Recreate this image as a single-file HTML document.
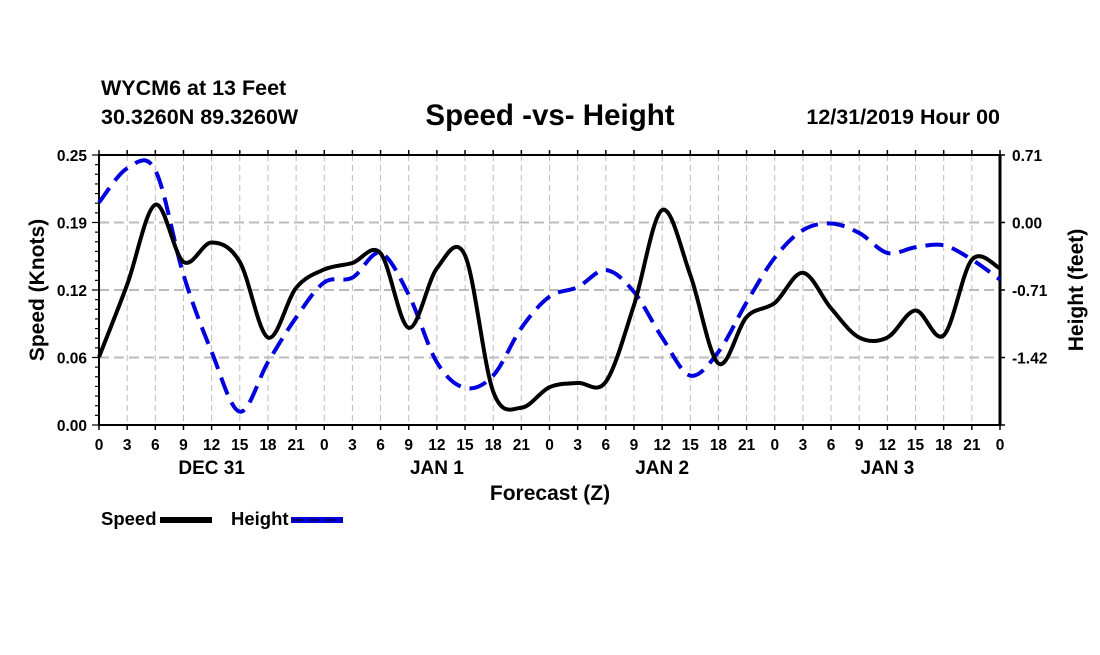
<!DOCTYPE html>
<html><head><meta charset="utf-8"><style>
body{margin:0;background:#fff;}
svg text{font-family:"Liberation Sans",Arial,sans-serif;font-weight:bold;fill:#000;}
</style></head><body>
<svg id="chart" width="1100" height="650" viewBox="0 0 1100 650" xmlns="http://www.w3.org/2000/svg">
<rect width="1100" height="650" fill="#fff"/>
<text x="101" y="95" font-size="21.5">WYCM6 at 13 Feet</text>
<text x="101" y="124" font-size="21.5">30.3260N 89.3260W</text>
<text x="550" y="125" font-size="29.5" text-anchor="middle">Speed -vs- Height</text>
<text x="1000" y="124" font-size="21.5" text-anchor="end">12/31/2019 Hour 00</text>
<g id="grid"></g>
<g id="axes"></g>
<g id="series"></g>
<text transform="translate(44,290) rotate(-90)" font-size="21" text-anchor="middle">Speed (Knots)</text>
<text transform="translate(1083,290) rotate(-90)" font-size="21" text-anchor="middle">Height (feet)</text>
<text x="550" y="500" font-size="21" text-anchor="middle">Forecast (Z)</text>
<g>
<text x="101" y="525" font-size="18.5">Speed</text>
<line x1="160" y1="520" x2="212" y2="520" stroke="#000" stroke-width="6"/>
<text x="231" y="525" font-size="18.5">Height</text>
<line x1="291" y1="520" x2="343" y2="520" stroke="#0000dd" stroke-width="6"/>
<line x1="293" y1="520" x2="343" y2="520" stroke="#000066" stroke-width="2" stroke-dasharray="10,6"/>
</g>
</svg>
<script>
const hourLabels=["0","3","6","9","12","15","18","21","0","3","6","9","12","15","18","21","0","3","6","9","12","15","18","21","0","3","6","9","12","15","18","21","0"];
const dayLabels=["DEC 31","JAN 1","JAN 2","JAN 3"];
const leftTicks=["0.00","0.06","0.12","0.19","0.25"];
const rightTicks=["","-1.42","-0.71","0.00","0.71"];
const speed=[0.063,0.130,0.204,0.151,0.169,0.151,0.081,0.127,0.144,0.150,0.159,0.090,0.145,0.157,0.031,0.016,0.035,0.039,0.040,0.111,0.199,0.139,0.057,0.100,0.113,0.141,0.108,0.081,0.081,0.106,0.083,0.153,0.145];
const height=[0.21,0.57,0.55,-0.55,-1.36,-1.99,-1.47,-1.00,-0.63,-0.58,-0.32,-0.76,-1.47,-1.74,-1.61,-1.11,-0.78,-0.68,-0.50,-0.73,-1.21,-1.61,-1.36,-0.84,-0.37,-0.08,-0.01,-0.11,-0.32,-0.26,-0.24,-0.39,-0.60];
const NS="http://www.w3.org/2000/svg";
const X0=99,X1=1000,Y0=155,Y1=425;
const xs=i=>X0+(X1-X0)*i/(hourLabels.length-1);
const ySpeed=v=>Y1-(v/0.25)*(Y1-Y0);
const yHeight=v=>Y1-((v+2.13)/2.84)*(Y1-Y0);
function mk(tag,attrs,parent){const e=document.createElementNS(NS,tag);for(const k in attrs)e.setAttribute(k,attrs[k]);parent.appendChild(e);return e;}
const grid=document.getElementById('grid'),axes=document.getElementById('axes'),series=document.getElementById('series');
for(let i=1;i<hourLabels.length-1;i++){
 const l=mk('line',{x1:xs(i),y1:Y0,x2:xs(i),y2:Y1,stroke:'#bbb','stroke-width':1,'stroke-dasharray':'6,4'},grid);
 
 
}
for(let j=1;j<4;j++){
 const y=Y1-(Y1-Y0)*j/4;
 const l=mk('line',{x1:X0,y1:y,x2:X1,y2:y,stroke:'#bbb','stroke-width':2,'stroke-dasharray':'10,5'},grid);
 
 
}
mk('rect',{x:X0,y:Y0,width:X1-X0,height:Y1-Y0,fill:'none',stroke:'#000','stroke-width':2},axes);
mk('line',{x1:X1,y1:Y0,x2:X1,y2:Y1,stroke:'#000','stroke-width':3},axes);
hourLabels.forEach((t,i)=>{
 const x=xs(i);
 mk('line',{x1:x,y1:Y0,x2:x,y2:Y0-5,stroke:'#000','stroke-width':1.5},axes);
 mk('line',{x1:x,y1:Y1,x2:x,y2:Y1+5,stroke:'#000','stroke-width':1.5},axes);
 const tx=mk('text',{x:x,y:450,'font-size':15.5,'text-anchor':'middle'},axes);
 tx.textContent=t;
 
 
});
dayLabels.forEach((d,k)=>{
 const tx=mk('text',{x:xs(4+8*k),y:474,'font-size':19,'text-anchor':'middle'},axes);
 tx.textContent=d;
 
 
});
for(let j=0;j<=28;j++){
 const y=Y1-(Y1-Y0)*j/28;
 mk('line',{x1:X0,y1:y,x2:X0-(j%7==0?7:4),y2:y,stroke:'#000','stroke-width':1.2},axes);
}
leftTicks.forEach((t,j)=>{
 const y=Y1-(Y1-Y0)*j/4;
 const tx=mk('text',{x:X0-12,y:y+6,'font-size':15.5,'text-anchor':'end'},axes);
 tx.textContent=t;
 
 
});
rightTicks.forEach((t,j)=>{
 const y=Y1-(Y1-Y0)*j/4;
 mk('line',{x1:X1,y1:y,x2:X1+5,y2:y,stroke:'#000','stroke-width':1.5},axes);
 if(!t)return;
 const tx=mk('text',{x:X1+12,y:y+6,'font-size':15.5},axes);
 tx.textContent=t;
 
 
});
function smooth(pts){
 let d=`M${pts[0][0]},${pts[0][1]}`;
 for(let i=0;i<pts.length-1;i++){
  const p0=pts[Math.max(0,i-1)],p1=pts[i],p2=pts[i+1],p3=pts[Math.min(pts.length-1,i+2)];
  const c1=[p1[0]+(p2[0]-p0[0])/6,p1[1]+(p2[1]-p0[1])/6];
  const c2=[p2[0]-(p3[0]-p1[0])/6,p2[1]-(p3[1]-p1[1])/6];
  d+=` C${c1[0]},${c1[1]} ${c2[0]},${c2[1]} ${p2[0]},${p2[1]}`;
 }
 return d;
}
const hp=mk('path',{d:smooth(height.map((v,i)=>[xs(i),yHeight(v)])),fill:'none',stroke:'#0000dd','stroke-width':4,'stroke-dasharray':'18,9'},series);


const sp=mk('path',{d:smooth(speed.map((v,i)=>[xs(i),ySpeed(v)])),fill:'none',stroke:'#000','stroke-width':4},series);


</script>
</body></html>
